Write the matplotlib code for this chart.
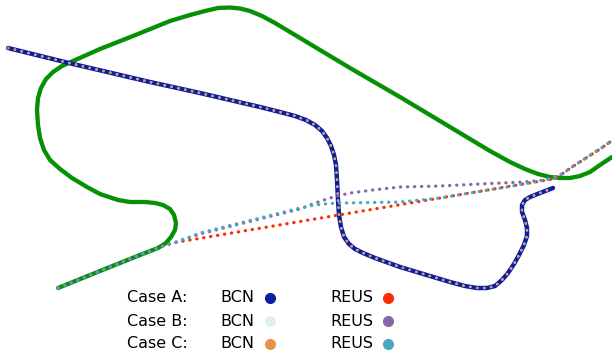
import matplotlib
matplotlib.use("Agg")
import matplotlib.pyplot as plt
from matplotlib.lines import Line2D

# ── route data (local map units, y grows downward) ──────────────────────
road_x = [58, 100, 140, 158, 166, 171, 175, 176, 174, 170, 163, 155, 145, 130,
          118, 100, 87, 72, 60, 50, 44, 40, 38, 37, 38, 41, 46, 53, 62, 73,
          100, 133, 170, 190, 205, 218, 230, 240, 250, 262, 275, 300, 350, 400,
          450, 490, 510, 525, 538, 550, 560, 570, 580, 590, 600, 612]
road_y = [288, 271, 255, 248, 243, 237, 230, 223, 215, 209, 205, 203, 202, 202,
          200, 194, 187, 178, 169, 160, 150, 138, 125, 110, 98, 88, 79, 72, 66, 61,
          49, 36, 21, 15, 11, 8, 7.5, 8.5, 11, 16, 23, 38, 68, 97,
          127, 151, 162, 169, 174, 177, 178, 178, 176, 172, 165, 157]

bcn_x = [8, 73, 150, 200, 260, 280, 295, 306, 315, 322, 327, 331, 334, 336,
         337, 338, 339, 341, 344, 349, 355, 363, 375, 400, 450, 465, 477, 487,
         495, 502, 508, 514, 519, 524, 527, 527, 525, 522, 522, 525, 530, 540,
         553]
bcn_y = [48, 64, 82, 93, 107, 112, 116, 120, 125, 131, 138, 146, 155, 165,
         180, 200, 215, 227, 237, 244, 249, 253, 258, 267, 282, 286, 288, 288,
         286, 280, 273, 264, 255, 245, 236, 228, 220, 212, 205, 200, 197, 193,
         188]

reus_a_x = [58, 100, 140, 158, 166, 175, 190, 553, 562, 572, 586, 600, 620]
reus_a_y = [288, 271, 255, 248, 245, 242.5, 240, 179, 174, 167, 158, 149, 135]
reus_b_x = [58, 100, 140, 158, 166, 175, 200, 240, 280, 300, 315, 330, 350,
            373, 400, 440, 480, 523, 545, 553, 562, 572, 586, 600, 620]
reus_b_y = [288, 271, 255, 248, 245, 242.5, 234, 224, 214, 209, 203, 198, 193,
            190, 187, 186, 184, 182, 180, 178, 174, 167, 158, 149, 135]
reus_c_x = [58, 100, 140, 158, 166, 175, 200, 240, 280, 300, 315, 330, 345,
            370, 400, 440, 470, 507, 540, 553, 562, 572, 586, 600, 620]
reus_c_y = [288, 271, 255, 248, 245, 242.5, 233, 223, 213, 208, 205, 203.5, 203,
            202.5, 202, 198, 193, 187, 181, 178, 174, 167, 158, 149, 135]

cases = ["Case A:", "Case B:", "Case C:"]
bcn_colors = ["#0a1fa3", "#e0f0f5", "#e3954a"]
reus_colors = ["#ff2a00", "#8569a6", "#48a8c0"]

GREEN = "#069006"

fig = plt.figure(figsize=(6.12, 3.6), dpi=100)
ax = fig.add_axes([0, 0, 1, 1])
ax.set_xlim(0, 612)
ax.set_ylim(360, 0)
ax.axis("off")

ax.plot(road_x, road_y, color=GREEN, lw=3.1, solid_capstyle="round",
        solid_joinstyle="round", zorder=1)

# BCN routes
ax.plot(bcn_x, bcn_y, color=bcn_colors[0], lw=3.2, solid_capstyle="round",
        solid_joinstyle="round", zorder=2)
for c in bcn_colors[1:]:
    ax.plot(bcn_x, bcn_y, color=c, lw=1.8, linestyle=(0, (0.1, 2.7)),
            dash_capstyle="round", zorder=3)

# REUS routes
for xs, ys, c in zip([reus_a_x, reus_b_x, reus_c_x],
                     [reus_a_y, reus_b_y, reus_c_y], reus_colors):
    ax.plot(xs, ys, color=c, lw=2.3, linestyle=(0, (0.1, 2.1)),
            dash_capstyle="round", zorder=4)

# legend block
row_y = [298, 321, 344]
for i, label in enumerate(cases):
    y = row_y[i]
    ax.text(127, y, label, fontsize=11.5, va="center", ha="left")
    ax.text(220, y, "BCN", fontsize=11.5, va="center", ha="left")
    ax.text(330, y, "REUS", fontsize=11.5, va="center", ha="left")
    ax.add_line(Line2D([270], [y], marker="o", markersize=7, lw=0,
                       color=bcn_colors[i]))
    ax.add_line(Line2D([388], [y], marker="o", markersize=7, lw=0,
                       color=reus_colors[i]))

fig.savefig("out.png", dpi=100)
